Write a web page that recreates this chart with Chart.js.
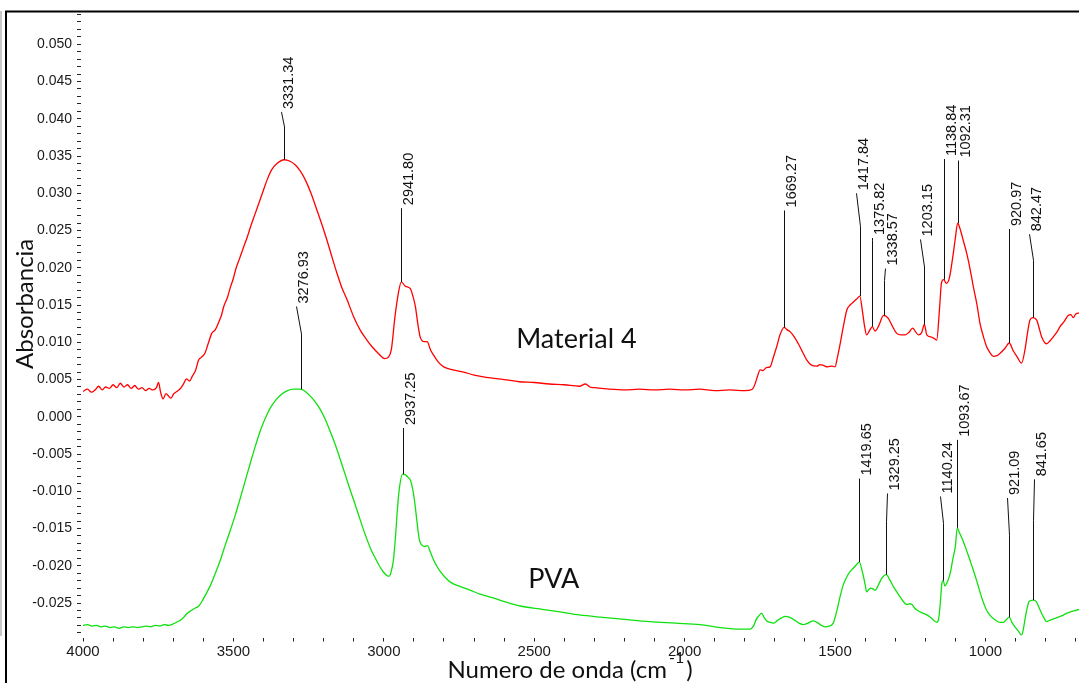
<!DOCTYPE html>
<html>
<head>
<meta charset="utf-8">
<title>FTIR Material 4 / PVA</title>
<script src="https://cdn.jsdelivr.net/npm/chart.js@4.4.1/dist/chart.umd.min.js"></script>
<style>
  html, body { margin: 0; padding: 0; background: #fff; }
  canvas { display: block; }
</style>
</head>
<body>
<canvas id="ftirChart" width="1079" height="683"></canvas>
<script>
// tick labels
const xTickLabels = [4000, 3500, 3000, 2500, 2000, 1500, 1000];
const yTickLabels = [0.050, 0.045, 0.040, 0.035, 0.030, 0.025, 0.020, 0.015, 0.010, 0.005,
                     0.000, -0.005, -0.010, -0.015, -0.020, -0.025];

// Material 4 (red)
const redWn = [4000, 3985, 3972, 3960, 3948, 3936, 3925, 3912, 3900, 3888, 3876, 3864, 3852, 3840, 3828, 3816,
  3804, 3792, 3780, 3768, 3756, 3749, 3742, 3734, 3724, 3716, 3708, 3698, 3688, 3676, 3666, 3656, 3646, 3636,
  3626, 3616, 3606, 3594, 3584, 3572, 3560, 3550, 3540, 3532, 3520, 3510, 3500, 3493, 3480, 3466, 3455, 3443,
  3430, 3416, 3402, 3388, 3372, 3355, 3331.34, 3312, 3294, 3278, 3261, 3242, 3222, 3205, 3189, 3172, 3156,
  3140, 3122, 3100, 3078, 3058, 3039, 3018, 2997, 2985, 2975, 2963, 2952, 2941.80, 2928, 2912, 2902, 2895,
  2887, 2879, 2866, 2856, 2845, 2835, 2818, 2801, 2770, 2735, 2700, 2660, 2600, 2550, 2500, 2450, 2400, 2350,
  2330, 2315, 2300, 2250, 2200, 2150, 2100, 2050, 2000, 1950, 1900, 1850, 1800, 1775, 1765, 1758, 1749, 1740,
  1728, 1716, 1705, 1694, 1683, 1669.27, 1660, 1649, 1635, 1622, 1608, 1594, 1577, 1560, 1550, 1539, 1525,
  1510, 1500, 1492, 1483, 1472, 1461, 1450, 1439, 1428, 1417.84, 1408, 1402, 1395, 1385, 1375.82, 1367, 1355,
  1338.57, 1323, 1310, 1295, 1280, 1267, 1255, 1242, 1232, 1223, 1212, 1203.15, 1195, 1179, 1170, 1162, 1153,
  1146, 1138.84, 1130, 1120, 1107, 1100, 1092.31, 1085, 1074, 1062, 1050, 1040, 1028, 1018, 1007, 996, 985,
  974, 962, 952, 935, 920.97, 908, 894, 880, 869, 860, 852, 842.47, 830, 820, 813, 797, 785, 775, 762, 752,
  738, 725, 716, 708, 700, 691, 685];
const redAbs = [0.0034, 0.0037, 0.0033, 0.0036, 0.0041, 0.0036, 0.0040, 0.0038, 0.0043, 0.0039, 0.0045, 0.0040,
  0.0043, 0.0038, 0.0042, 0.0037, 0.0039, 0.0035, 0.0038, 0.0036, 0.0039, 0.0046, 0.0033, 0.0024, 0.0031,
  0.0028, 0.0025, 0.0031, 0.0034, 0.0038, 0.0044, 0.0051, 0.0048, 0.0055, 0.0062, 0.0076, 0.0080, 0.0086,
  0.0098, 0.0112, 0.0117, 0.0126, 0.0136, 0.0148, 0.0160, 0.0174, 0.0186, 0.0197, 0.0212, 0.0228, 0.0240,
  0.0255, 0.0270, 0.0286, 0.0302, 0.0318, 0.0332, 0.0340, 0.0345, 0.0343, 0.0338, 0.0330, 0.0318, 0.0300,
  0.0277, 0.0257, 0.0237, 0.0214, 0.0193, 0.0174, 0.0157, 0.0134, 0.0116, 0.0104, 0.0094, 0.0085, 0.0078,
  0.0080, 0.0090, 0.0134, 0.0165, 0.0181, 0.0175, 0.0172, 0.0160, 0.0148, 0.0125, 0.0107, 0.0101, 0.0101,
  0.0090, 0.0083, 0.0073, 0.0067, 0.0063, 0.0060, 0.0056, 0.0053, 0.0050, 0.0047, 0.0046, 0.0044, 0.0043,
  0.0041, 0.0044, 0.0040, 0.0039, 0.0037, 0.0036, 0.0037, 0.0036, 0.0037, 0.0036, 0.0037, 0.0035, 0.0036,
  0.0035, 0.0037, 0.0045, 0.0054, 0.0063, 0.0062, 0.0066, 0.0067, 0.0080, 0.0094, 0.0110, 0.0120, 0.0117,
  0.0114, 0.0107, 0.0098, 0.0087, 0.0076, 0.0069, 0.0068, 0.0070, 0.0069, 0.0067, 0.0068, 0.0067, 0.0080,
  0.0098, 0.0122, 0.0143, 0.0150, 0.0154, 0.0158, 0.0162, 0.0139, 0.0122, 0.0110, 0.0116, 0.0121, 0.0115,
  0.0122, 0.0136, 0.0132, 0.0122, 0.0112, 0.0110, 0.0110, 0.0113, 0.0119, 0.0114, 0.0110, 0.0113, 0.0124,
  0.0110, 0.0107, 0.0105, 0.0103, 0.0143, 0.0180, 0.0184, 0.0179, 0.0186, 0.0219, 0.0240, 0.0260, 0.0253,
  0.0237, 0.0219, 0.0196, 0.0174, 0.0150, 0.0125, 0.0108, 0.0094, 0.0086, 0.0081, 0.0082, 0.0085, 0.0092,
  0.0099, 0.0089, 0.0080, 0.0072, 0.0089, 0.0113, 0.0130, 0.0133, 0.0130, 0.0117, 0.0107, 0.0098, 0.0102,
  0.0107, 0.0114, 0.0121, 0.0128, 0.0136, 0.0137, 0.0133, 0.0138, 0.0139, 0.0139];

// PVA (green)
const greenWn = [4000, 3985, 3970, 3955, 3940, 3925, 3910, 3895, 3880, 3865, 3850, 3835, 3820, 3805, 3790, 3775,
  3760, 3745, 3730, 3715, 3700, 3690, 3676, 3665, 3654, 3640, 3628, 3615, 3605, 3590, 3576, 3560, 3543, 3527,
  3510, 3493, 3477, 3460, 3443, 3426, 3410, 3394, 3377, 3360, 3344, 3320, 3300, 3276.93, 3261, 3245, 3228,
  3210, 3194, 3178, 3161, 3145, 3128, 3112, 3095, 3078, 3061, 3045, 3028, 3015, 3002, 2990, 2982, 2975, 2968,
  2961, 2955, 2948, 2937.25, 2928, 2920, 2912, 2905, 2898, 2890, 2882, 2874, 2866, 2855, 2845, 2835, 2823,
  2812, 2795, 2779, 2745, 2712, 2680, 2646, 2600, 2547, 2480, 2414, 2350, 2281, 2200, 2115, 2030, 1949, 1880,
  1816, 1783, 1770, 1762, 1755, 1744, 1735, 1727, 1716, 1705, 1690, 1678, 1666, 1652, 1638, 1620, 1605, 1590,
  1572, 1560, 1545, 1533, 1520, 1506, 1495, 1483, 1472, 1461, 1450, 1439, 1430, 1419.65, 1408, 1400, 1395,
  1388, 1381, 1374, 1367, 1355, 1345, 1329.25, 1318, 1306, 1290, 1273, 1262, 1250, 1242, 1235, 1229, 1212,
  1195, 1180, 1162, 1156, 1150, 1145, 1140.24, 1135, 1125, 1117, 1108, 1100, 1093.67, 1086, 1076, 1064, 1052,
  1041, 1030, 1019, 1008, 997, 986, 970, 952, 940, 930, 921.09, 912, 902, 890, 880, 874, 869, 862, 855,
  841.65, 831, 822, 813, 804, 797, 785, 764, 745, 731, 710, 691, 685];
const greenAbs = [-0.0280, -0.0279, -0.0281, -0.0280, -0.0282, -0.0281, -0.0283, -0.0282, -0.0284, -0.0282,
  -0.0283, -0.0282, -0.0283, -0.0282, -0.0281, -0.0282, -0.0280, -0.0281, -0.0279, -0.0280, -0.0278, -0.0276,
  -0.0273, -0.0269, -0.0264, -0.0260, -0.0257, -0.0254, -0.0248, -0.0237, -0.0226, -0.0210, -0.0192, -0.0172,
  -0.0152, -0.0131, -0.0109, -0.0085, -0.0061, -0.0038, -0.0018, -0.0002, 0.0012, 0.0022, 0.0029, 0.0035,
  0.0037, 0.0037, 0.0034, 0.0028, 0.0020, 0.0009, -0.0004, -0.0020, -0.0038, -0.0057, -0.0078, -0.0098,
  -0.0118, -0.0139, -0.0159, -0.0176, -0.0190, -0.0200, -0.0208, -0.0213, -0.0214, -0.0207, -0.0192, -0.0160,
  -0.0125, -0.0095, -0.0077, -0.0078, -0.0081, -0.0085, -0.0095, -0.0112, -0.0140, -0.0165, -0.0172, -0.0174,
  -0.0173, -0.0182, -0.0192, -0.0201, -0.0208, -0.0216, -0.0222, -0.0228, -0.0233, -0.0238, -0.0242, -0.0248,
  -0.0254, -0.0258, -0.0262, -0.0266, -0.0269, -0.0272, -0.0275, -0.0277, -0.0279, -0.0283, -0.0285, -0.0285,
  -0.0280, -0.0272, -0.0268, -0.0264, -0.0270, -0.0274, -0.0276, -0.0277, -0.0273, -0.0270, -0.0268, -0.0269,
  -0.0272, -0.0277, -0.0279, -0.0277, -0.0274, -0.0276, -0.0280, -0.0282, -0.0281, -0.0277, -0.0262, -0.0241,
  -0.0225, -0.0215, -0.0208, -0.0203, -0.0199, -0.0195, -0.0210, -0.0225, -0.0235, -0.0232, -0.0230, -0.0231,
  -0.0233, -0.0225, -0.0217, -0.0212, -0.0219, -0.0228, -0.0238, -0.0248, -0.0252, -0.0251, -0.0253, -0.0257,
  -0.0259, -0.0263, -0.0266, -0.0270, -0.0276, -0.0272, -0.0250, -0.0224, -0.0220, -0.0227, -0.0220, -0.0210,
  -0.0190, -0.0174, -0.0149, -0.0156, -0.0165, -0.0178, -0.0192, -0.0205, -0.0219, -0.0234, -0.0248, -0.0259,
  -0.0266, -0.0272, -0.0276, -0.0276, -0.0272, -0.0269, -0.0276, -0.0282, -0.0288, -0.0293, -0.0285, -0.0273,
  -0.0258, -0.0248, -0.0246, -0.0248, -0.0256, -0.0264, -0.0271, -0.0275, -0.0273, -0.0270, -0.0267, -0.0264,
  -0.0261, -0.0259, -0.0258];

// peak marks: [peak wavenumber, elbow absorbance, label-end wavenumber, label-end absorbance]
const redPeaks = [
  [3331.34, 0.0389, 3342, 0.0409],
  [2941.80, 0.0280, 2941.80, 0.0280],
  [1669.27, 0.0277, 1669.27, 0.0277],
  [1417.84, 0.0255, 1429, 0.0300],
  [1375.82, 0.0237, 1377, 0.0240],
  [1338.57, 0.0183, 1335, 0.0199],
  [1203.15, 0.0201, 1218, 0.0238],
  [1138.84, 0.0346, 1138.84, 0.0346],
  [1092.31, 0.0344, 1092.31, 0.0344],
  [920.97, 0.0252, 920.97, 0.0252],
  [842.47, 0.0210, 855, 0.0245]
];
const greenPeaks = [
  [3276.93, 0.0111, 3292, 0.0148],
  [2937.25, -0.0015, 2937.25, -0.0015],
  [1419.65, -0.0083, 1419.65, -0.0083],
  [1329.25, -0.0141, 1327, -0.0103],
  [1140.24, -0.0143, 1151, -0.0107],
  [1093.67, -0.0031, 1093.67, -0.0031],
  [921.09, -0.0159, 929, -0.0109],
  [841.65, -0.0139, 837, -0.0084]
];

// series names and where they are written: [text, wavenumber, absorbance]
const seriesNotes = [
  ['Material 4', 2560, 0.0092],
  ['PVA', 2520, -0.0230]
];

const toPoints = (wn, abs) => wn.map((w, i) => ({ x: w, y: abs[i] }));

const frameAndNotes = {
  id: 'frameAndNotes',
  afterDraw(chart) {
    const { ctx, scales: { x, y } } = chart;
    ctx.save();

    // clear the strip above the frame, then the frame itself
    ctx.fillStyle = '#fff';
    ctx.fillRect(0, 0, chart.width, 10.5);
    ctx.strokeStyle = '#000';
    ctx.lineWidth = 2;
    ctx.beginPath();
    ctx.moveTo(6, 683);
    ctx.lineTo(6, 11.5);
    ctx.lineTo(1079, 11.5);
    ctx.stroke();

    // peak lines and labels
    const drawPeaks = (peaks, wn, abs) => {
      peaks.forEach(p => {
        const idx = wn.indexOf(p[0]);
        const px = x.getPixelForValue(p[0]);
        const py = y.getPixelForValue(abs[idx]);
        const ey = y.getPixelForValue(p[1]);
        const tx = x.getPixelForValue(p[2]);
        const ty = y.getPixelForValue(p[3]);
        ctx.strokeStyle = '#111';
        ctx.lineWidth = 1;
        ctx.beginPath();
        ctx.moveTo(Math.round(px) + 0.5, py);
        ctx.lineTo(Math.round(px) + 0.5, ey);
        ctx.lineTo(Math.round(tx) + 0.5, ty);
        ctx.stroke();

        ctx.save();
        ctx.translate(tx + 8, ty - 3);
        ctx.rotate(-Math.PI / 2);
        ctx.font = '14.5px "Liberation Sans", Arial, sans-serif';
        ctx.fillStyle = '#111';
        ctx.textAlign = 'left';
        ctx.textBaseline = 'middle';
        ctx.fillText(p[0].toFixed(2), 0, 0);
        ctx.restore();
      });
    };
    drawPeaks(redPeaks, redWn, redAbs);
    drawPeaks(greenPeaks, greenWn, greenAbs);

    // series names
    ctx.fillStyle = '#111';
    ctx.font = '27px Lato, "Open Sans", sans-serif';
    ctx.textAlign = 'left';
    ctx.textBaseline = 'alphabetic';
    seriesNotes.forEach(n => {
      ctx.fillText(n[0], x.getPixelForValue(n[1]), y.getPixelForValue(n[2]));
    });

    // y title
    ctx.save();
    ctx.translate(33, 369);
    ctx.rotate(-Math.PI / 2);
    ctx.font = '24px Lato, "Open Sans", sans-serif';
    ctx.fillText('Absorbancia', 0, 0);
    ctx.restore();

    // x title with superscript
    const mainFont = '24px Lato, "Open Sans", sans-serif';
    const supFont = '16px Lato, "Open Sans", sans-serif';
    const part1 = 'Numero de onda (cm';
    const part2 = '-1';
    const part3 = ')';
    ctx.font = mainFont;
    const w1 = ctx.measureText(part1).width;
    const w3 = ctx.measureText(part3).width;
    ctx.font = supFont;
    const w2 = ctx.measureText(part2).width;
    const xs = 570 - (w1 + w2 + w3 + 4) / 2;
    ctx.font = mainFont;
    ctx.fillText(part1, xs, 678);
    ctx.font = supFont;
    ctx.fillText(part2, xs + w1 + 2, 663);
    ctx.font = mainFont;
    ctx.fillText(part3, xs + w1 + w2 + 4, 678);

    ctx.restore();
  }
};

const tickFontX = { family: '"Liberation Sans", Arial, sans-serif', size: 15 };
const tickFontY = { family: '"Liberation Sans", Arial, sans-serif', size: 14 };

new Chart(document.getElementById('ftirChart').getContext('2d'), {
  type: 'line',
  data: {
    datasets: [
      {
        label: 'Material 4',
        data: toPoints(redWn, redAbs),
        borderColor: '#ff0000',
        borderWidth: 1.3,
        pointRadius: 0,
        cubicInterpolationMode: 'monotone'
      },
      {
        label: 'PVA',
        data: toPoints(greenWn, greenAbs),
        borderColor: '#10e010',
        borderWidth: 1.3,
        pointRadius: 0,
        cubicInterpolationMode: 'monotone'
      }
    ]
  },
  options: {
    responsive: false,
    animation: false,
    devicePixelRatio: 1,
    layout: { padding: { top: 13, left: 0, right: 0, bottom: 0 } },
    plugins: {
      legend: { display: false },
      tooltip: { enabled: false }
    },
    scales: {
      x: {
        type: 'linear',
        reverse: true,
        min: 689,
        max: 4000,
        afterBuildTicks: scale => {
          const t = [];
          for (let v = 700; v <= 4000; v += 100) t.push({ value: v });
          scale.ticks = t;
        },
        afterFit: scale => {
          scale.height = 47.5;
          scale.paddingLeft = 0;
          scale.paddingRight = 0;
        },
        ticks: {
          autoSkip: false,
          maxRotation: 0,
          minRotation: 0,
          padding: 1,
          color: '#1a1a1a',
          font: tickFontX,
          callback: v => (xTickLabels.includes(v) ? String(v) : '')
        },
        grid: {
          drawOnChartArea: false,
          drawTicks: true,
          tickLength: 6,
          tickColor: '#222',
          tickWidth: 1,
          z: 1
        },
        border: { display: true, color: '#c8c8c8', width: 4 }
      },
      y: {
        type: 'linear',
        min: -0.02936,
        max: 0.0542,
        afterBuildTicks: scale => {
          const t = [];
          for (let i = -29; i <= 54; i++) t.push({ value: i / 1000 });
          scale.ticks = t;
        },
        afterFit: scale => {
          scale.width = 83;
          scale.paddingTop = 0;
          scale.paddingBottom = 0;
        },
        ticks: {
          autoSkip: false,
          padding: 5,
          color: '#1a1a1a',
          font: tickFontY,
          callback: v => {
            const label = yTickLabels.find(l => Math.abs(l - v) < 1e-7);
            return label === undefined ? '' : label.toFixed(3);
          }
        },
        grid: {
          drawOnChartArea: false,
          drawTicks: true,
          tickLength: 6,
          tickColor: '#222',
          tickWidth: 1,
          z: 1
        },
        border: { display: true, color: '#c8c8c8', width: 4 }
      }
    }
  },
  plugins: [frameAndNotes]
});
</script>
</body>
</html>
